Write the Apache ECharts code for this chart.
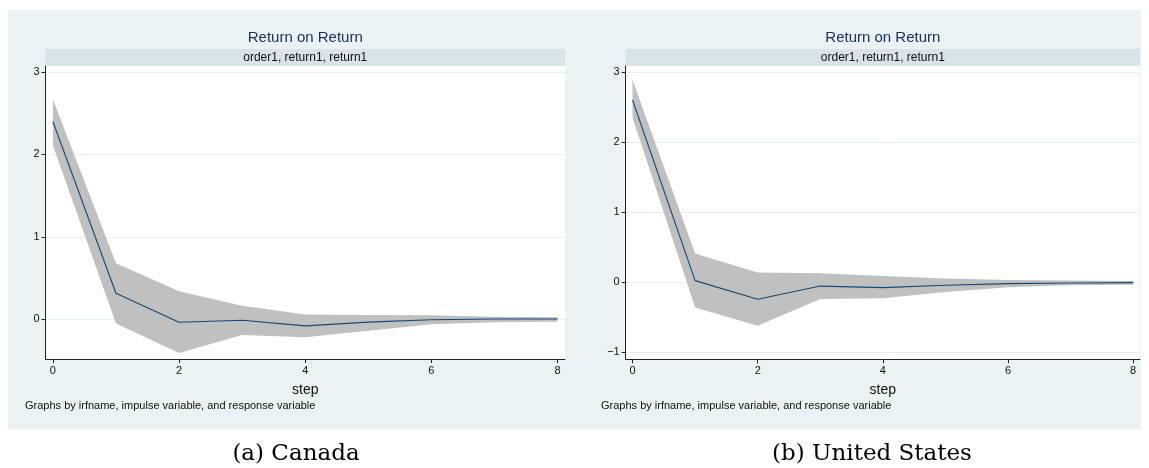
<!DOCTYPE html>
<html>
<head>
<meta charset="utf-8">
<script src="https://cdn.jsdelivr.net/npm/echarts@6/dist/echarts.min.js"></script>
<style>
  html, body { margin: 0; padding: 0; background: #ffffff; }
  #chart { width: 1149px; height: 468px; }
</style>
</head>
<body>
<div id="chart"></div>
<script>
// Impulse-response steps
const steps = [0, 1, 2, 3, 4, 5, 6, 7, 8];

// Canada: return -> return, with confidence band
const canadaIrf   = [2.40, 0.316, -0.036, -0.012, -0.080, -0.035, -0.005, 0.003, 0.004];
const canadaUpper = [2.67, 0.68, 0.34, 0.165, 0.058, 0.052, 0.048, 0.032, 0.026];
const canadaLower = [2.11, -0.05, -0.41, -0.19, -0.218, -0.14, -0.06, -0.036, -0.03];

// United States: return -> return, with confidence band
const usIrf   = [2.60, 0.023, -0.243, -0.055, -0.077, -0.043, -0.020, -0.010, -0.005];
const usUpper = [2.89, 0.41, 0.14, 0.128, 0.09, 0.052, 0.033, 0.023, 0.017];
const usLower = [2.35, -0.36, -0.62, -0.238, -0.229, -0.138, -0.07, -0.043, -0.037];

// Tick labels
const xTicks = [0, 2, 4, 6, 8];
const canadaYTicks = [0, 1, 2, 3];
const usYTicks = [-1, 0, 1, 2, 3];

// Text
const panelTitle = 'Return on Return';
const panelSubtitle = 'order1, return1, return1';
const xName = 'step';
const byNote = 'Graphs by irfname, impulse variable, and response variable';
const captions = ['(a) Canada', '(b) United States'];

const SANS = 'Liberation Sans, Arial, Helvetica, sans-serif';
const SERIF = 'DejaVu Serif, serif';
const BG = '#eaf2f3';
const BAND = '#d8e4ea';
const GRIDLINE = '#e8f1f2';
const BAND_FILL = '#c0c0c0';
const LINE = '#1a476f';
const AXIS = '#222222';

const panels = [
  { grid: { left: 45.5, top: 66, width: 519.5, height: 293 },
    xRange: [-0.117, 8.119], yRange: [-0.482, 3.073], yTicks: canadaYTicks,
    irf: canadaIrf, upper: canadaUpper, lower: canadaLower,
    note: 25, caption: captions[0], captionX: 296 },
  { grid: { left: 625.7, top: 66, width: 514.3, height: 293.3 },
    xRange: [-0.109, 8.109], yRange: [-1.1, 3.086], yTicks: usYTicks,
    irf: usIrf, upper: usUpper, lower: usLower,
    note: 601, caption: captions[1], captionX: 872 }
];

const pairs = (ys) => steps.map((s, i) => [s, ys[i]]);
const minusSign = (v) => String(v).replace('-', '\u2212');

const grids = [], xAxes = [], yAxes = [], series = [], graphics = [];

graphics.push({
  type: 'rect', z: -100, silent: true,
  shape: { x: 8, y: 10, width: 1133, height: 419.3 },
  style: { fill: BG }
});

panels.forEach((p, k) => {
  grids.push(Object.assign({ show: true, backgroundColor: '#ffffff', borderWidth: 0 }, p.grid));

  xAxes.push({
    type: 'value', gridIndex: k, min: p.xRange[0], max: p.xRange[1],
    name: xName, nameLocation: 'middle', nameGap: 24,
    nameTextStyle: { fontFamily: SANS, fontSize: 14, color: '#111' },
    axisLine: { show: true, onZero: false, lineStyle: { color: AXIS, width: 1 } },
    axisTick: { show: true, length: 4, customValues: xTicks, lineStyle: { color: AXIS } },
    axisLabel: { customValues: xTicks, margin: 6, fontFamily: SANS, fontSize: 11, color: '#111' },
    splitLine: { show: false }
  });

  yAxes.push({
    type: 'value', gridIndex: k, min: p.yRange[0], max: p.yRange[1],
    axisLine: { show: true, onZero: false, lineStyle: { color: AXIS, width: 1 } },
    axisTick: { show: true, length: 4, customValues: p.yTicks, lineStyle: { color: AXIS } },
    axisLabel: { customValues: p.yTicks, margin: 6, fontFamily: SANS, fontSize: 11, color: '#111',
                 formatter: minusSign },
    splitLine: { show: true, lineStyle: { color: GRIDLINE, width: 1 } }
  });

  // confidence band as one polygon: upper bound forward, lower bound back
  series.push({
    type: 'custom', xAxisIndex: k, yAxisIndex: k, silent: true, z: 2,
    data: steps.map((s, i) => [s, p.upper[i], p.lower[i]]),
    encode: { x: 0, y: [1, 2] },
    renderItem: (params, api) => {
      if (params.dataIndex !== 0) return null;
      const top = steps.map((s, i) => api.coord([s, p.upper[i]]));
      const bottom = steps.map((s, i) => api.coord([s, p.lower[i]])).reverse();
      return {
        type: 'polygon',
        shape: { points: top.concat(bottom) },
        style: { fill: BAND_FILL, stroke: null }
      };
    }
  });
  series.push({
    type: 'line', xAxisIndex: k, yAxisIndex: k,
    data: pairs(p.irf), showSymbol: false, silent: true,
    lineStyle: { color: LINE, width: 1.1 }, z: 3
  });

  const g = p.grid;
  const cx = g.left + g.width / 2;
  graphics.push({
    type: 'rect', z: -50, silent: true,
    shape: { x: g.left, y: 49, width: g.width, height: 17 },
    style: { fill: BAND }
  });
  graphics.push({
    type: 'text', z: 100, silent: true, x: cx, y: 38,
    style: { text: panelTitle, fontFamily: SANS, fontSize: 15, fill: '#1e3060',
             align: 'center', verticalAlign: 'middle' }
  });
  graphics.push({
    type: 'text', z: 100, silent: true, x: cx, y: 57.5,
    style: { text: panelSubtitle, fontFamily: SANS, fontSize: 12, fill: '#111',
             align: 'center', verticalAlign: 'middle' }
  });
  graphics.push({
    type: 'text', z: 100, silent: true, x: p.note, y: 406,
    style: { text: byNote, fontFamily: SANS, fontSize: 11, fill: '#111',
             align: 'left', verticalAlign: 'middle' }
  });
  graphics.push({
    type: 'text', z: 100, silent: true, x: p.captionX, y: 454,
    style: { text: p.caption, fontFamily: SERIF, fontSize: 23, fill: '#000',
             align: 'center', verticalAlign: 'middle' }
  });
});

const chart = echarts.init(document.getElementById('chart'), null, { renderer: 'canvas' });
chart.setOption({
  animation: false,
  backgroundColor: '#ffffff',
  grid: grids,
  xAxis: xAxes,
  yAxis: yAxes,
  series: series,
  graphic: graphics
});
</script>
</body>
</html>
